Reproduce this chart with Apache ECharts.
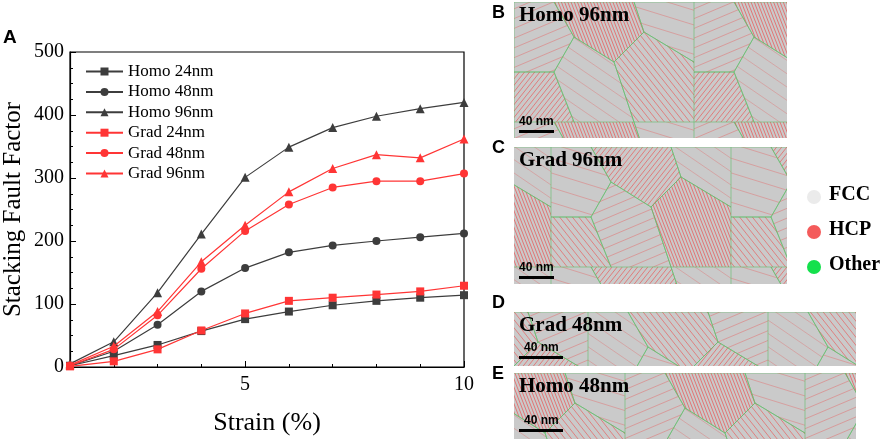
<!DOCTYPE html>
<html>
<head>
<meta charset="utf-8">
<script src="https://cdn.jsdelivr.net/npm/echarts@6/dist/echarts.min.js"></script>
<style>
  html, body { margin: 0; padding: 0; background: #fff; }
  #chart { width: 886px; height: 441px; }
</style>
</head>
<body>
<div id="chart"></div>
<script>
  // Strain (%) and stacking fault factor per sample
  const strain = [1, 2, 3, 4, 5, 6, 7, 8, 9, 10];
  const homo24 = [2, 18, 35, 57, 76, 88, 98, 105, 110, 114];
  const homo48 = [2, 25, 67, 120, 157, 182, 193, 200, 206, 212];
  const homo96 = [5, 40, 118, 211, 301, 349, 380, 398, 410, 420];
  const grad24 = [1, 9, 28, 58, 85, 105, 110, 115, 120, 129];
  const grad48 = [2, 28, 82, 156, 216, 258, 285, 295, 295, 307];
  const grad96 = [3, 33, 88, 167, 225, 278, 315, 337, 332, 362];

  const xLabelTicks = [5, 10];
  const xMinorTicks = [2, 3, 4, 6, 7, 8, 9];

  // Snapshot panels on the right: [letter, label]
  const panels = [
    ["B", "Homo 96nm"],
    ["C", "Grad 96nm"],
    ["D", "Grad 48nm"],
    ["E", "Homo 48nm"],
  ];
  const phases = ["FCC", "HCP", "Other"];
  const phaseColors = ["#ebebeb", "#f45b5b", "#14e04c"];

  const DARK = "#3d3d3d";
  const RED = "#ff3535";
  const SERIF = "'Liberation Serif', 'Times New Roman', serif";
  const SANS = "'Liberation Sans', Arial, sans-serif";

  const chart = echarts.init(document.getElementById("chart"), null, { renderer: "canvas" });

  function pairs(ys) {
    return strain.map((x, i) => [x, ys[i]]);
  }

  function lineSeries(name, ys, color, symbol, size) {
    return {
      name,
      type: "line",
      data: pairs(ys),
      symbol,
      symbolSize: size,
      showSymbol: true,
      lineStyle: { color, width: 1.2 },
      itemStyle: { color },
      z: color === RED ? 3 : 2,
    };
  }

  // gray atom map with hexagonal grains, some of them streaked with red faults
  function makeTexture(seed) {
    const W = 180, H = 120;
    const c = document.createElement("canvas");
    c.width = W;
    c.height = H;
    const g = c.getContext("2d");
    g.fillStyle = "#cacaca";
    g.fillRect(0, 0, W, H);

    const grains = [
      [[0, 0], [40, 0], [60, 35], [40, 70], [0, 70]],
      [[40, 0], [120, 0], [130, 30], [100, 60], [60, 35]],
      [[120, 0], [180, 0], [180, 60], [130, 30]],
      [[0, 70], [40, 70], [60, 120], [0, 120]],
      [[40, 70], [60, 35], [100, 60], [120, 120], [60, 120]],
      [[100, 60], [130, 30], [180, 60], [180, 120], [120, 120]],
    ];
    const streaks = [
      [0.9, 5, 0.7], [-0.4, 9, 0.45], [1.2, 3, 0.8],
      [0.3, 14, 0.4], [-0.9, 4, 0.75], [0.6, 11, 0.35],
    ];
    grains.forEach((poly, i) => {
      const [ang, gap, alpha] = streaks[(i + seed) % streaks.length];
      g.save();
      g.beginPath();
      poly.forEach(([x, y], k) => (k ? g.lineTo(x, y) : g.moveTo(x, y)));
      g.closePath();
      g.clip();
      g.strokeStyle = "rgba(238,70,70," + alpha + ")";
      g.lineWidth = 0.8;
      const dx = Math.cos(ang) * 300, dy = Math.sin(ang) * 300;
      for (let k = -300; k < 300; k += gap) {
        const ox = 90 - Math.sin(ang) * k, oy = 60 + Math.cos(ang) * k;
        g.beginPath();
        g.moveTo(ox - dx, oy - dy);
        g.lineTo(ox + dx, oy + dy);
        g.stroke();
      }
      g.restore();
      g.strokeStyle = "rgba(90,190,100,0.8)";
      g.lineWidth = 0.7;
      g.beginPath();
      poly.forEach(([x, y], k) => (k ? g.lineTo(x, y) : g.moveTo(x, y)));
      g.closePath();
      g.stroke();
    });
    return c;
  }

  // panel boxes [x, y, w, h]
  const boxes = [
    [514, 2, 273, 136],
    [514, 147, 273, 137],
    [514, 312, 342, 54],
    [514, 373, 342, 66],
  ];
  const letterY = [4, 139, 294, 365];
  const barW = [35, 35, 44, 44];
  const barTextX = [519, 519, 524, 524];

  const graphics = [
    {
      type: "text",
      left: 3, top: 28,
      style: { text: "A", font: "bold 19px " + SANS, fill: "#000" },
    },
  ];
  panels.forEach(([letter, label], i) => {
    const [bx, by, bw, bh] = boxes[i];
    const tex = makeTexture(i * 2 + 1);
    graphics.push({
      type: "rect",
      shape: { x: bx, y: by, width: bw, height: bh },
      style: { fill: { image: tex, repeat: "repeat", x: bx + i * 37, y: by } },
    });
    graphics.push({
      type: "text",
      x: 492, y: letterY[i],
      style: { text: letter, font: "bold 18px " + SANS, fill: "#000" },
    });
    graphics.push({
      type: "text",
      x: 519, y: by + 3,
      style: { text: label, font: "bold 21px " + SERIF, fill: "#000" },
    });
    graphics.push({
      type: "text",
      x: barTextX[i], y: by + bh - (i < 2 ? 22 : 24),
      style: { text: "40 nm", font: "bold 12px " + SANS, fill: "#000" },
    });
    graphics.push({
      type: "rect",
      shape: { x: 519, y: by + bh - (i < 2 ? 8 : 10), width: barW[i], height: 3 },
      style: { fill: "#000" },
    });
  });
  phases.forEach((p, i) => {
    const cy = 197 + i * 35;
    graphics.push({
      type: "circle",
      shape: { cx: 814, cy, r: 7 },
      style: { fill: phaseColors[i] },
    });
    graphics.push({
      type: "text",
      x: 829, y: cy - 12,
      style: { text: p, font: "bold 20px " + SERIF, fill: "#000" },
    });
  });

  chart.setOption({
    backgroundColor: "#fff",
    animation: false,
    grid: {
      left: 69, top: 52, right: 422, bottom: 72,
      show: true, borderColor: "#000", borderWidth: 1.2,
    },
    legend: {
      orient: "vertical",
      left: 80, top: 58,
      itemWidth: 37, itemHeight: 10, itemGap: 3.4,
      textStyle: { fontFamily: SERIF, fontSize: 17, color: "#000" },
      data: ["Homo 24nm", "Homo 48nm", "Homo 96nm", "Grad 24nm", "Grad 48nm", "Grad 96nm"],
    },
    xAxis: [
      {
        type: "value",
        min: 1, max: 10,
        name: "Strain (%)",
        nameLocation: "middle",
        nameGap: 43,
        nameTextStyle: { fontFamily: SERIF, fontSize: 26, color: "#000" },
        axisLine: { lineStyle: { color: "#000", width: 1.2 } },
        axisTick: { inside: true, length: 6, customValues: xLabelTicks, lineStyle: { color: "#000" } },
        axisLabel: { customValues: xLabelTicks, fontFamily: SERIF, fontSize: 20, color: "#000", margin: 8 },
        splitLine: { show: false },
      },
      {
        type: "value",
        min: 1, max: 10,
        position: "bottom",
        axisLine: { show: false },
        axisTick: { inside: true, length: 3, customValues: xMinorTicks, lineStyle: { color: "#000" } },
        axisLabel: { show: false },
        splitLine: { show: false },
      },
    ],
    yAxis: {
      type: "value",
      min: 0, max: 500, interval: 100,
      name: "Stacking Fault Factor",
      nameLocation: "middle",
      nameGap: 44,
      nameTextStyle: { fontFamily: SERIF, fontSize: 25, color: "#000" },
      axisLine: { show: true, lineStyle: { color: "#000", width: 1.2 } },
      axisTick: { inside: true, length: 6, lineStyle: { color: "#000" } },
      minorTick: { show: true, splitNumber: 4, length: 3, lineStyle: { color: "#000" } },
      axisLabel: { fontFamily: SERIF, fontSize: 20, color: "#000", margin: 6 },
      splitLine: { show: false },
    },
    series: [
      lineSeries("Homo 24nm", homo24, DARK, "rect", 8),
      lineSeries("Homo 48nm", homo48, DARK, "circle", 8),
      lineSeries("Homo 96nm", homo96, DARK, "triangle", 9),
      lineSeries("Grad 24nm", grad24, RED, "rect", 8),
      lineSeries("Grad 48nm", grad48, RED, "circle", 8),
      lineSeries("Grad 96nm", grad96, RED, "triangle", 9),
    ],
    graphic: graphics,
  });

  window.addEventListener("resize", () => chart.resize());
</script>
</body>
</html>
